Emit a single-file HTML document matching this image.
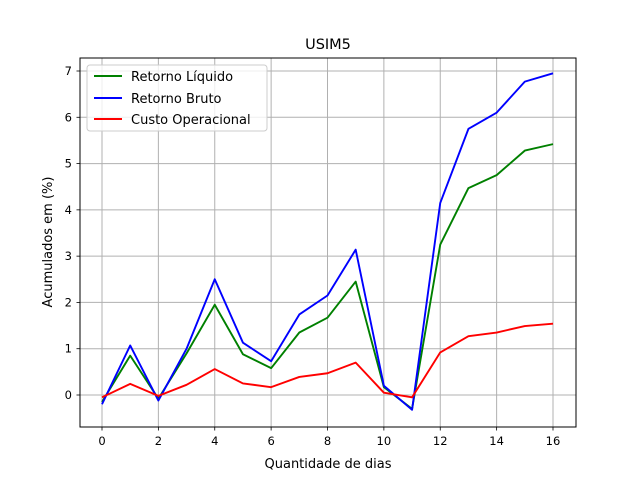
<!DOCTYPE html>
<html><head><meta charset="utf-8"><style>
body{margin:0;background:#fff;}
svg text{font-family:"DejaVu Sans","Liberation Sans",sans-serif;}
</style></head><body>
<svg width="640" height="480" xmlns="http://www.w3.org/2000/svg" id="chart">
<rect width="640" height="480" fill="#fff"/>
<g id="grid"></g>
<g id="ticks"></g>
<g id="series"></g>
<rect x="80" y="58" width="496" height="369" fill="none" stroke="#000" stroke-width="1"/>
<text x="328" y="49" text-anchor="middle" font-size="14.5">USIM5</text>
<text x="328" y="468" text-anchor="middle" font-size="13">Quantidade de dias</text>
<text transform="translate(52,242) rotate(-90)" text-anchor="middle" font-size="13">Acumulados em (%)</text>
<g>
<rect x="87" y="65" width="180" height="66" rx="3" fill="#fff" fill-opacity="0.8" stroke="#ccc"/>
<line x1="94" y1="76" x2="122" y2="76" stroke="#008000" stroke-width="2"/>
<text x="131" y="81" font-size="13">Retorno Líquido</text>
<line x1="94" y1="98" x2="122" y2="98" stroke="#0000ff" stroke-width="2"/>
<text x="131" y="103" font-size="13">Retorno Bruto</text>
<line x1="94" y1="119" x2="122" y2="119" stroke="#ff0000" stroke-width="2"/>
<text x="131" y="124" font-size="13">Custo Operacional</text>
</g>
</svg>
<script>
const days=[0,1,2,3,4,5,6,7,8,9,10,11,12,13,14,15,16];
const retornoBruto=[-0.2,1.07,-0.12,1.0,2.5,1.13,0.73,1.74,2.15,3.14,0.2,-0.32,4.15,5.75,6.1,6.77,6.95];
const retornoLiquido=[-0.15,0.85,-0.08,0.9,1.95,0.88,0.58,1.35,1.67,2.45,0.17,-0.3,3.25,4.47,4.75,5.28,5.42];
const custoOperacional=[-0.05,0.24,-0.02,0.22,0.56,0.25,0.17,0.39,0.47,0.7,0.05,-0.05,0.92,1.27,1.35,1.49,1.54];
const xTicks=[0,2,4,6,8,10,12,14,16];
const yTicks=[0,1,2,3,4,5,6,7];
const X=v=>102+(v)*(553-102)/16;
const Y=v=>395-v*(395-71)/7;
const ns="http://www.w3.org/2000/svg";
const grid=document.getElementById('grid'),ticks=document.getElementById('ticks'),ser=document.getElementById('series');
function mk(t,a,p){const e=document.createElementNS(ns,t);for(const k in a)e.setAttribute(k,a[k]);p.appendChild(e);return e;}
xTicks.forEach(t=>{
 const x=X(t);
 const g=mk('line',{x1:x,x2:x,y1:58,y2:427,stroke:'#b0b0b0','stroke-width':1},grid);
 
 
 mk('line',{x1:x,x2:x,y1:427,y2:430.5,stroke:'#000','stroke-width':0.8},ticks);
 const tx=mk('text',{x:x,y:445,'text-anchor':'middle','font-size':11.5},ticks);
 tx.textContent=t;
 
 
});
yTicks.forEach(t=>{
 const y=Y(t);
 const g=mk('line',{x1:80,x2:576,y1:y,y2:y,stroke:'#b0b0b0','stroke-width':1},grid);
 
 
 mk('line',{x1:76.5,x2:80,y1:y,y2:y,stroke:'#000','stroke-width':0.8},ticks);
 const tx=mk('text',{x:72,y:y+4,'text-anchor':'end','font-size':11.5},ticks);
 tx.textContent=t;
 
 
});
function line(vals,color,name){
 const p=mk('polyline',{points:vals.map((v,i)=>X(days[i])+','+Y(v)).join(' '),fill:'none',stroke:color,'stroke-width':1.9,'stroke-linejoin':'round'},ser);
 
 
}
line(retornoLiquido,'#008000','line-retorno-liquido');
line(retornoBruto,'#0000ff','line-retorno-bruto');
line(custoOperacional,'#ff0000','line-custo-operacional');
</script>
</body></html>
